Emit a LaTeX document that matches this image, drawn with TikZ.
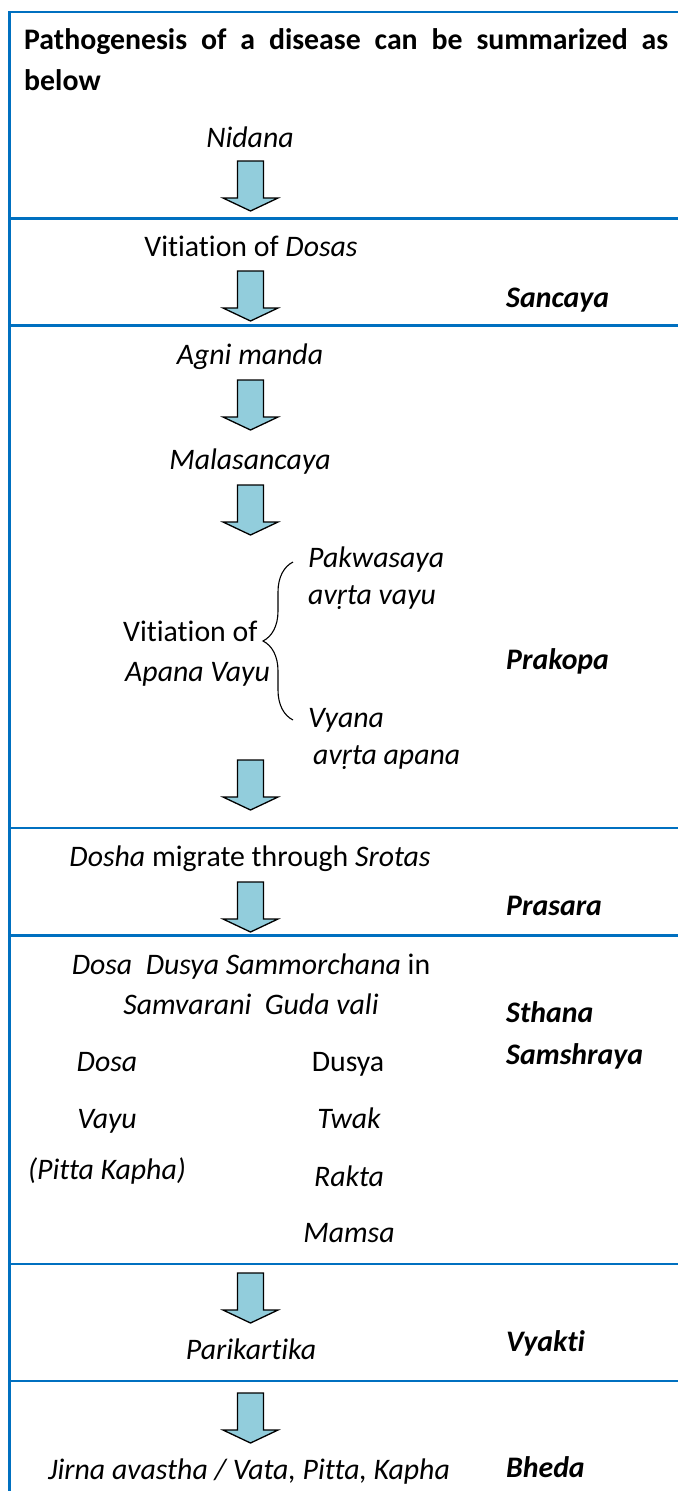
\documentclass[tikz,border=0pt]{standalone}
\usepackage{fontspec}
\setmainfont[Ligatures=NoCommon]{Carlito}
\usetikzlibrary{decorations.pathreplacing}
\definecolor{rulecol}{HTML}{0070C0}
\definecolor{arrowfill}{HTML}{92CDDC}
\begin{document}
\begin{tikzpicture}[x=1pt,y=-1pt,
  txt/.style={inner sep=0pt, text height=19pt, text depth=0pt, font=\fontsize{29.8}{36}\selectfont},
  ttl/.style={txt, anchor=west, font=\fontsize{29.8}{36}\selectfont\bfseries},
  lab/.style={txt, anchor=west, font=\fontsize{29.8}{36}\selectfont\bfseries\itshape},
  rulestyle/.style={draw=rulecol, line width=2.2pt},
  bracestyle/.style={draw=black, line width=1.1pt, decorate, decoration={brace, amplitude=30pt}},
  blockarrow/.pic={\draw[fill=arrowfill, draw=black, line width=1.3pt, line join=miter]
     (-13,0) -- (13,0) -- (13,37) -- (27.5,37) -- (0,50) -- (-27.5,37) -- (-13,37) -- cycle;}
]
\useasboundingbox (0,0) rectangle (678,1491);

% frame and separators
\draw[rulestyle] (9.5,12.3) -- (9.5,1491);
\foreach \yy in {12.3,218.5,325.5,828.3,935.5,1264.3,1381}
  \draw[rulestyle] (8.4,\yy) -- (678,\yy);

% title
\node[ttl] (t1) at (24,40) {\makebox[644pt][s]{Pathogenesis of a disease can be summarized as}};
\node[ttl] (t2) at (24,81) {below};

% main column
\node[txt] (nidana) at (250,138) {\itshape Nidana};
\pic at (250.5,161) {blockarrow};
\node[txt] (vitd) at (251,247) {Vitiation of \textit{Dosas}};
\pic at (250.5,271) {blockarrow};
\node[txt] (agni) at (250,355) {\itshape Agni manda};
\pic at (250.5,380) {blockarrow};
\node[txt] (mala) at (250,460) {\itshape Malasancaya};
\pic at (250.5,485) {blockarrow};

% brace group
\node[txt, anchor=west] (vito) at (123,632) {Vitiation of};
\node[txt, anchor=west] (apana) at (125,672) {\itshape Apana Vayu};
\coordinate (bt) at (293,562);
\coordinate (bb) at (293,720);
\draw[bracestyle] (bb) -- (bt);
\node[txt, anchor=west] (pak) at (308,558) {\itshape Pakwasaya};
\node[txt, anchor=west] (avv) at (308,595) {\itshape avṛta vayu};
\node[txt, anchor=west] (vya) at (308,718) {\itshape Vyana};
\node[txt, anchor=west] (ava) at (313,755) {\itshape avṛta apana};
\pic at (250.5,760) {blockarrow};

\node[txt] (dosha) at (250,857) {\textit{Dosha} migrate through \textit{Srotas}};
\pic at (250.5,882) {blockarrow};

\node[txt] (dds) at (251,965) {\textit{Dosa\ \ Dusya Sammorchana} in};
\node[txt] (sam) at (251,1005) {\itshape Samvarani\ \ Guda vali};
\node[txt] (dosa) at (107,1062) {\itshape Dosa};
\node[txt] (dusya) at (348,1062) {Dusya};
\node[txt] (vayu) at (107,1119) {\itshape Vayu};
\node[txt] (twak) at (349,1119) {\itshape Twak};
\node[txt] (pk) at (107,1170) {\itshape (Pitta Kapha)};
\node[txt] (rakta) at (349,1177) {\itshape Rakta};
\node[txt] (mamsa) at (349,1233) {\itshape Mamsa};

\pic at (250.5,1273) {blockarrow};
\node[txt] (pari) at (251,1350) {\itshape Parikartika};
\pic at (250.5,1393) {blockarrow};
\node[txt] (jirna) at (249,1470) {\itshape Jirna avastha / Vata, Pitta, Kapha};

% stage labels
\node[lab] (sancaya) at (506,298) {Sancaya};
\node[lab] (prakopa) at (506,660) {Prakopa};
\node[lab] (prasara) at (506,906) {Prasara};
\node[lab] (sthana) at (506,1013) {Sthana};
\node[lab] (samsh) at (506,1055) {Samshraya};
\node[lab] (vyakti) at (506,1342) {Vyakti};
\node[lab] (bheda) at (506,1468) {Bheda};
\end{tikzpicture}
\end{document}
